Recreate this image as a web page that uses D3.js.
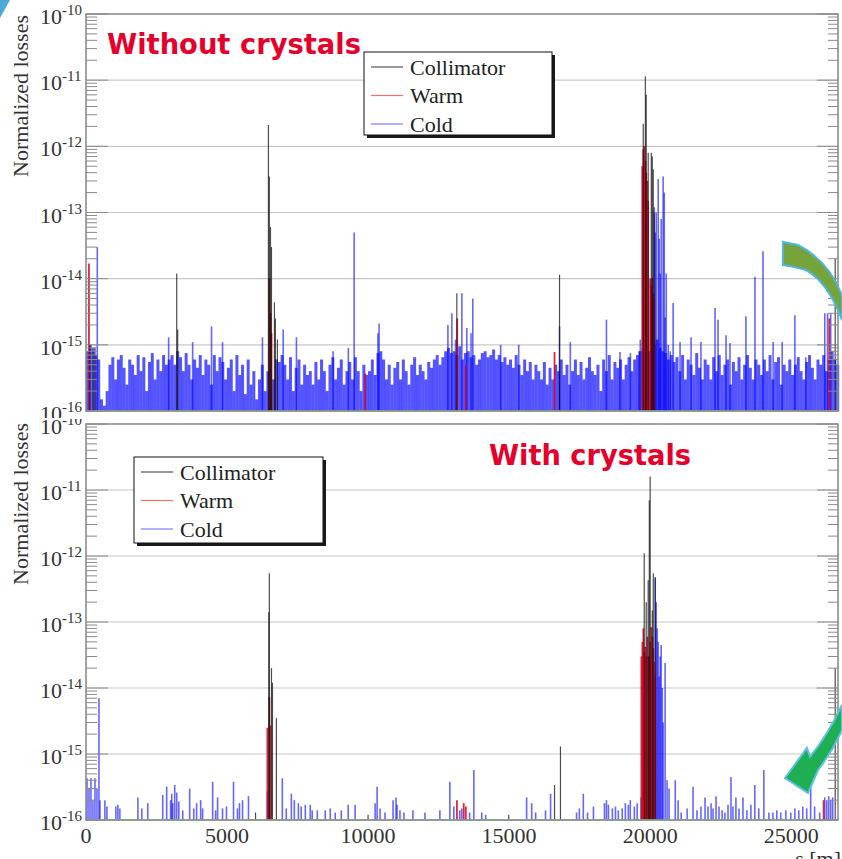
<!DOCTYPE html>
<html>
<head>
<meta charset="utf-8">
<script src="https://cdn.jsdelivr.net/npm/d3@7"></script>
<style>
  body { margin: 0; background: #fff; }
  svg { display: block; }
</style>
</head>
<body>
<div class="chart"></div>
<script>
const series = ["Collimator", "Warm", "Cold"];
const xTicks = [0, 5000, 10000, 15000, 20000, 25000];
const yExps = [-16, -15, -14, -13, -12, -11, -10];
const ringLength = 26659;
const binWidth = 100;

// top panel (without crystals): cold "grass", one value per 100 m bin, in units of 1e-16
const coldGrassTop = [
  8, 10, 9, 7, 6, 1.5, 1.2, 2, 5, 6.5,
  3, 6, 7, 4.5, 2.5, 6, 5, 3.5, 7, 4,
  6.5, 2, 5.5, 7.5, 3, 6, 4, 7, 5, 6,
  7, 5, 8, 6.5, 4, 7.5, 5, 3, 6, 4.5,
  7, 3.5, 6, 5, 2.5, 7, 4, 6.5, 5.5, 3,
  4.5, 6, 2, 7, 3.5, 5, 1.8, 6, 2.5, 4,
  1.5, 3, 5, 2, 4, 2.5, 3, 6, 5.5, 7,
  5, 3, 6.5, 2, 4.5, 6, 2.5, 5, 3.5, 4,
  2.5, 5.5, 3, 6, 4, 2, 5, 6.5, 3, 4.5,
  6, 2.5, 4, 5.5, 3, 6.5, 4, 2, 5, 3.5,
  4, 6, 3.5, 7.5, 8, 6, 3, 5, 2.5, 4.5,
  5.5, 3, 6, 4, 2.5, 5, 6.5, 3.5, 5, 4,
  3, 5.5, 4.5, 6, 7, 5, 6.5, 8, 9, 7.5,
  8, 7, 9.5, 6, 7.5, 8, 6.5, 7, 5, 6,
  7.5, 8, 6.5, 7, 8.5, 6, 7, 5.5, 6.5, 5,
  6, 4.5, 7, 5, 3.5, 6, 4, 5.5, 3, 5,
  4, 3, 5.5, 2.5, 4.5, 3, 5, 4, 6, 3.5,
  5, 2.5, 4, 6, 3.5, 5.5, 3, 4.5, 6.5, 4,
  3.5, 5, 2, 6, 4, 7, 3, 5.5, 4.5, 6,
  3, 5, 6.5, 4, 6, 7, 8, 9, 10, 8,
  9, 10, 12, 9, 8, 7.5, 6, 7, 5.5, 6.5,
  4, 7, 3, 6, 5, 3.5, 7.5, 4.5, 3, 6,
  5, 3, 6.5, 4, 7, 3.5, 5, 6, 2.5, 5.5,
  4, 6.5, 3, 5, 7, 4.5, 3, 6, 5, 3.5,
  6, 4, 7, 3, 5.5, 6.5, 2.5, 5, 4, 6,
  3.5, 5, 6.5, 4, 3, 5.5, 7, 4.5, 3, 6,
  5, 7, 4, 6, 8, 6, 5
];

// top panel: isolated cold peaks [s, loss]
const coldPeaksTop = [
  [400, 3e-14], [2930, 1.3e-15], [3780, 1.1e-15], [4450, 1.9e-15], [4840, 1.1e-15], [6255, 1.3e-15],
  [6990, 1.7e-15], [7460, 1.3e-15], [8760, 8e-16], [9300, 9e-16], [9507, 5e-14],
  [10350, 1.5e-15], [10390, 2.1e-15], [12830, 2e-15], [12970, 3e-15], [13100, 1.2e-15],
  [13324, 6e-15], [13500, 1.8e-15], [13650, 1.5e-15], [13712, 5e-15],
  [14700, 1e-15], [15340, 1e-15], [16787, 1.9e-15], [17170, 1.1e-15], [18450, 2.4e-15],
  [18930, 7.8e-16], [19300, 7.5e-16], [19610, 8e-16], [19650, 1.2e-15],
  [20145, 1.2e-13], [20180, 5e-14], [20215, 1e-13], [20285, 3.2e-13], [20320, 4e-14],
  [20355, 1.2e-14], [20390, 8e-14], [20460, 3.5e-13], [20500, 2e-13], [20530, 2.6e-15],
  [20570, 1.2e-14], [20640, 1e-15], [20710, 8e-16], [20815, 4.3e-15],
  [21060, 1.1e-15], [21450, 1.3e-15], [21800, 1.1e-15], [22300, 3.6e-15], [22405, 2.4e-15],
  [22690, 1.4e-15], [22830, 1.07e-15], [23395, 2.7e-15], [23715, 1.07e-14], [24000, 2.6e-14],
  [24360, 1.1e-15], [24680, 1.1e-15], [25130, 2.8e-15], [25520, 6.5e-16],
  [26190, 3e-15], [26290, 3e-15], [26400, 3e-15]
];

const warmTop = [
  [105, 1.7e-14],
  [6500, 1e-14], [6540, 3e-15], [6575, 1.5e-15],
  [9900, 3.7e-16], [13160, 2.5e-15], [13465, 5e-16], [16610, 7.8e-16],
  [19720, 5e-13], [19755, 9e-13], [19790, 1e-12], [19830, 6e-13], [19860, 4e-13],
  [19900, 3e-13], [19930, 1.5e-13], [20000, 1e-14], [20040, 8e-15], [20075, 1e-14],
  [20110, 6e-15], [20145, 5e-15],
  [26350, 2.5e-15]
];

const collTop = [
  [140, 1e-15], [250, 8e-16], [320, 9e-16],
  [3216, 1.2e-14], [3250, 1.7e-15],
  [6467, 2.1e-12], [6500, 3.5e-13], [6540, 6e-14], [6575, 3e-14], [6680, 4.4e-15],
  [6715, 2.5e-15], [6785, 1.2e-15],
  [13146, 6e-15], [16787, 1.15e-14],
  [19755, 2.2e-12], [19830, 1.15e-11], [19860, 6e-12], [19930, 8e-13], [20040, 8e-13],
  [20075, 7e-13], [20110, 4.5e-13], [20145, 1e-13],
  [26560, 2e-14]
];

// bottom panel (with crystals)
const coldBottom = [
  [35, 4.3e-16], [106, 3e-16], [177, 4.3e-16], [247, 2e-16], [318, 4.3e-16], [389, 3e-16], [459, 7e-15], [495, 2e-16],
  [670, 2e-16], [742, 1.6e-16], [1060, 1.6e-16], [1130, 1.7e-16], [1200, 1.5e-16],
  [1840, 2.2e-16], [1980, 1.5e-16], [2190, 1.8e-16],
  [2720, 2.4e-16], [2860, 3.2e-16], [3000, 2e-16], [3040, 2.5e-16], [3075, 1.8e-16], [3145, 3.4e-16], [3216, 2.6e-16], [3290, 1.9e-16],
  [3430, 1.4e-16], [3675, 3e-16], [3820, 1.5e-16], [3920, 1.8e-16], [4065, 2e-16], [4135, 1.5e-16],
  [4490, 3.8e-16], [4595, 1.4e-16], [4665, 2.2e-16], [4840, 1.5e-16], [4980, 1.6e-16],
  [5230, 3.8e-16], [5370, 1.5e-16], [5440, 1.8e-16], [5550, 2e-16], [5760, 2.3e-16],
  [6430, 2.7e-16],
  [6960, 4.3e-16], [7100, 1.5e-16], [7280, 2.5e-16], [7385, 2e-16], [7530, 1.8e-16], [7630, 1.6e-16],
  [7775, 1.7e-16], [7950, 1.7e-16], [8020, 1.4e-16], [8200, 1.4e-16], [8480, 1.4e-16], [8660, 1.5e-16],
  [8835, 1.3e-16], [9050, 1.4e-16], [9295, 1.7e-16], [9540, 1.7e-16],
  [10250, 1.8e-16], [10320, 3.2e-16], [10425, 1.5e-16], [10600, 1.3e-16], [10885, 2e-16], [10990, 2.2e-16],
  [11025, 1.7e-16], [11130, 1.4e-16], [11270, 1.3e-16], [11590, 1.4e-16], [12015, 1.3e-16], [12545, 1.4e-16],
  [12900, 3.8e-16], [13040, 1.6e-16], [13250, 1.4e-16], [13320, 1.5e-16], [13600, 1.3e-16], [13750, 5.7e-16],
  [14030, 1.3e-16], [14170, 1.2e-16],
  [15620, 2.2e-16], [15800, 1.8e-16], [15940, 1.3e-16], [16290, 1.4e-16], [16470, 2.5e-16],
  [17390, 1.3e-16], [17490, 1.5e-16], [17630, 2.5e-16], [17780, 1.3e-16], [17990, 1.6e-16],
  [18380, 1.8e-16], [18450, 2e-16], [18520, 1.7e-16], [18660, 1.5e-16], [18770, 1.6e-16], [18870, 1.4e-16],
  [19010, 1.5e-16], [19120, 1.8e-16], [19225, 1.7e-16], [19295, 2e-16], [19440, 1.6e-16], [19540, 1.8e-16], [19680, 2.2e-16],
  [20180, 4.6e-13], [20215, 2e-13], [20250, 8e-14], [20285, 5e-14], [20320, 1.5e-14], [20355, 3e-14],
  [20390, 4.5e-14], [20430, 1e-14], [20460, 3e-15], [20530, 2.4e-14], [20600, 4e-16], [20670, 3e-16],
  [20890, 4e-16], [20990, 2e-16], [21100, 1.3e-16], [21310, 1.5e-16], [21520, 3.2e-16], [21660, 1.4e-16],
  [21800, 1.6e-16], [21945, 2.2e-16], [22050, 1.6e-16], [22160, 1.8e-16], [22230, 1.5e-16], [22335, 2.3e-16],
  [22440, 1.6e-16], [22550, 1.4e-16], [22650, 1.3e-16], [22760, 1.7e-16], [22865, 4.5e-16], [22935, 1.6e-16],
  [23040, 2.2e-16], [23150, 1.5e-16], [23290, 2.2e-16], [23430, 1.4e-16], [23570, 1.7e-16], [23710, 3.4e-16],
  [23850, 1.5e-16], [24030, 5.7e-16], [24210, 1.3e-16], [24350, 1.3e-16], [24490, 1.4e-16], [24630, 1.3e-16],
  [24810, 1.4e-16], [24985, 1.3e-16], [25130, 1.5e-16], [25270, 1.4e-16], [25410, 1.6e-16], [25550, 1.5e-16],
  [25690, 3.4e-16], [25830, 1.6e-16], [26010, 1.3e-16], [26190, 2.2e-16], [26260, 2e-16], [26330, 2.3e-16],
  [26400, 2e-16], [26470, 2.2e-16]
];

const warmBottom = [
  [6430, 2.5e-15], [6500, 7.3e-15], [6535, 2.7e-15],
  [13150, 2e-16], [13390, 1.8e-16], [13465, 1.6e-16],
  [19690, 3e-14], [19725, 5e-14], [19760, 8e-14], [19795, 3.5e-14], [19830, 4.2e-14], [19865, 3e-14],
  [19900, 6e-14], [19935, 3e-14], [19970, 3e-14], [20005, 5e-14], [20040, 8.3e-14], [20075, 6e-14],
  [20110, 4e-14], [20145, 2.5e-14], [20180, 1.5e-14],
  [26150, 2e-16]
];

const collBottom = [
  [6010, 1.3e-16], [6480, 1.4e-13], [6500, 5.5e-13], [6575, 2e-14], [6610, 1.2e-14], [6750, 3.5e-15],
  [10000, 1.2e-16], [14985, 1.2e-16], [16610, 3.4e-16], [16820, 1.3e-15],
  [19790, 1.1e-12], [19860, 2e-13], [19930, 4.3e-13], [19970, 7e-12], [20000, 1.6e-11],
  [20075, 1.5e-13], [20110, 5.5e-13], [20180, 4.8e-13],
  [26560, 2e-14]
];

const width = 842, height = 859;
const plotLeft = 86, plotRight = 838;
const serif = "'Liberation Serif', 'Times New Roman', serif";
const titleFont = "'DejaVu Sans', Verdana, sans-serif";
const red = "#e4002b";

const svg = d3.select(".chart").append("svg")
  .attr("width", width)
  .attr("height", height);

const defs = svg.append("defs");
defs.append("clipPath").attr("id", "clipTop")
  .append("rect").attr("x", 0).attr("y", 0).attr("width", width).attr("height", 418);
defs.append("clipPath").attr("id", "clipBottom")
  .append("rect").attr("x", 0).attr("y", 419).attr("width", width).attr("height", height - 419);

const x = d3.scaleLinear().domain([0, ringLength]).range([plotLeft, plotRight]);

const grassTop = coldGrassTop.map((v, i) => [i * binWidth + binWidth / 2, v * 1e-16]);

function drawPanel(cfg) {
  const g = svg.append("g").attr("clip-path", `url(#${cfg.clip})`);
  const y = d3.scaleLog().domain([1e-16, 1e-10]).range([cfg.bottom, cfg.top]);

  g.append("rect")
    .attr("x", 0).attr("y", cfg.top - 14)
    .attr("width", width).attr("height", cfg.bottom - cfg.top + 60)
    .attr("fill", "#fff");

  // horizontal grid at each decade
  g.append("g").selectAll("line")
    .data(yExps.slice(1, -1))
    .join("line")
    .attr("x1", plotLeft).attr("x2", plotRight)
    .attr("y1", e => y(Math.pow(10, e))).attr("y2", e => y(Math.pow(10, e)))
    .attr("stroke", "#c8c8c8")
    .attr("stroke-width", 1.2);

  const bars = (data, cls, color, w, op) => {
    g.append("g").attr("class", cls).selectAll("line")
      .data(data.filter(d => d[1] > 1e-16))
      .join("line")
      .attr("x1", d => x(d[0])).attr("x2", d => x(d[0]))
      .attr("y1", y(1e-16)).attr("y2", d => y(d[1]))
      .attr("stroke", color)
      .attr("stroke-width", w)
      .attr("stroke-opacity", op);
  };
  if (cfg.grass) bars(cfg.grass, "grass", "#1414ff", 3, 0.72);
  bars(cfg.cold, "cold", "#0000ff", 1.6, 0.6);
  bars(cfg.warm, "warm", "#d5001c", 1.8, 0.85);
  bars(cfg.coll, "coll", "#111", 1.2, 0.75);

  // floor line
  g.append("line")
    .attr("x1", plotLeft).attr("x2", plotRight)
    .attr("y1", y(1e-16)).attr("y2", y(1e-16))
    .attr("stroke", "#8fe39a")
    .attr("stroke-width", 1.6);

  // frame
  g.append("rect")
    .attr("x", plotLeft).attr("y", cfg.top)
    .attr("width", plotRight - plotLeft).attr("height", cfg.bottom - cfg.top)
    .attr("fill", "none")
    .attr("stroke", "#858585")
    .attr("stroke-width", 1.5);

  // log ticks on both sides
  const ticks = y.ticks();
  const isMajor = t => Math.abs(Math.log10(t) - Math.round(Math.log10(t))) < 1e-6;
  g.append("g").selectAll("line")
    .data(ticks)
    .join("line")
    .attr("x1", plotLeft).attr("x2", t => plotLeft + (isMajor(t) ? 22 : 11))
    .attr("y1", t => y(t)).attr("y2", t => y(t))
    .attr("stroke", "#8a8a8a").attr("stroke-width", 1);
  g.append("g").selectAll("line")
    .data(ticks)
    .join("line")
    .attr("x1", plotRight).attr("x2", t => plotRight - (isMajor(t) ? 21 : 10))
    .attr("y1", t => y(t)).attr("y2", t => y(t))
    .attr("stroke", "#8a8a8a").attr("stroke-width", 1);

  // decade labels 10^n
  const lab = g.append("g").selectAll("text")
    .data(yExps)
    .join("text")
    .attr("x", 40)
    .attr("y", e => y(Math.pow(10, e)) + 10)
    .attr("font-family", serif)
    .attr("font-size", 22)
    .attr("fill", "#333")
    .text("10");
  lab.append("tspan")
    .attr("dy", -9)
    .attr("font-size", 15)
    .text(e => `${e}`);

  // y axis title
  g.append("text")
    .attr("transform", `translate(28, ${cfg.titleY}) rotate(-90)`)
    .attr("text-anchor", "end")
    .attr("font-family", serif)
    .attr("font-size", 22)
    .attr("fill", "#333")
    .text("Normalized losses");

  if (cfg.xLabels) {
    g.append("g").selectAll("text")
      .data(xTicks)
      .join("text")
      .attr("x", d => x(d))
      .attr("y", 843)
      .attr("text-anchor", "middle")
      .attr("font-family", serif)
      .attr("font-size", 22)
      .attr("fill", "#333")
      .text(d => d);
    g.append("text")
      .attr("x", 841).attr("y", 866)
      .attr("text-anchor", "end")
      .attr("font-family", serif)
      .attr("font-size", 22)
      .attr("fill", "#333")
      .text("s [m]");
  }

  // legend
  const L = cfg.legend;
  const lg = g.append("g");
  lg.append("rect")
    .attr("x", L.x + 3).attr("y", L.y + 3)
    .attr("width", L.w).attr("height", L.h)
    .attr("fill", "#1a1a1a");
  lg.append("rect")
    .attr("x", L.x).attr("y", L.y)
    .attr("width", L.w).attr("height", L.h)
    .attr("fill", "#fff").attr("stroke", "#111").attr("stroke-width", 1);
  const legendColors = ["#555", "#f07070", "#7d7dff"];
  const row = lg.selectAll("g.row")
    .data(series)
    .join("g")
    .attr("class", "row")
    .attr("transform", (d, i) => `translate(${L.x}, ${L.y + 15 + i * 28.5})`);
  row.append("line")
    .attr("x1", 7).attr("x2", 39)
    .attr("stroke", (d, i) => legendColors[i])
    .attr("stroke-width", 1.2);
  row.append("text")
    .attr("x", 46).attr("y", 7.5)
    .attr("font-family", serif)
    .attr("font-size", 22)
    .attr("fill", "#222")
    .text(d => d);

  // panel title
  g.append("text")
    .attr("x", cfg.label.x).attr("y", cfg.label.y)
    .attr("font-family", titleFont)
    .attr("font-weight", "bold")
    .attr("font-size", 28)
    .attr("fill", red)
    .attr("textLength", cfg.label.len)
    .attr("lengthAdjust", "spacingAndGlyphs")
    .text(cfg.label.text);
}

drawPanel({
  clip: "clipTop", top: 14, bottom: 411, titleY: 15,
  grass: grassTop, cold: coldPeaksTop, warm: warmTop, coll: collTop,
  legend: { x: 364, y: 52, w: 188, h: 83 },
  label: { text: "Without crystals", x: 107, y: 54, len: 254 },
  xLabels: false
});

drawPanel({
  clip: "clipBottom", top: 424, bottom: 820, titleY: 423,
  grass: null, cold: coldBottom, warm: warmBottom, coll: collBottom,
  legend: { x: 134, y: 457, w: 189, h: 86 },
  label: { text: "With crystals", x: 489, y: 465, len: 202 },
  xLabels: true
});

// slide decorations: arrows and corner mark
svg.append("path")
  .attr("d", "M0,0 L10,0 L0,18 Z")
  .attr("fill", "#4fa9d6");

svg.append("path")
  .attr("d", "M783,242 L798,245 Q830,262 842,296 L842,320 Q828,282 806,270 Q792,266 783,265 Z")
  .attr("fill", "#76a33a")
  .attr("stroke", "#4db6e0")
  .attr("stroke-width", 2);

svg.append("path")
  .attr("d", "M785,778 L807,748 L810,757 Q828,735 842,705 L842,730 Q832,752 818,770 L808,793 Z")
  .attr("fill", "#1fae52")
  .attr("stroke", "#5bc0de")
  .attr("stroke-width", 2);
</script>
</body>
</html>
